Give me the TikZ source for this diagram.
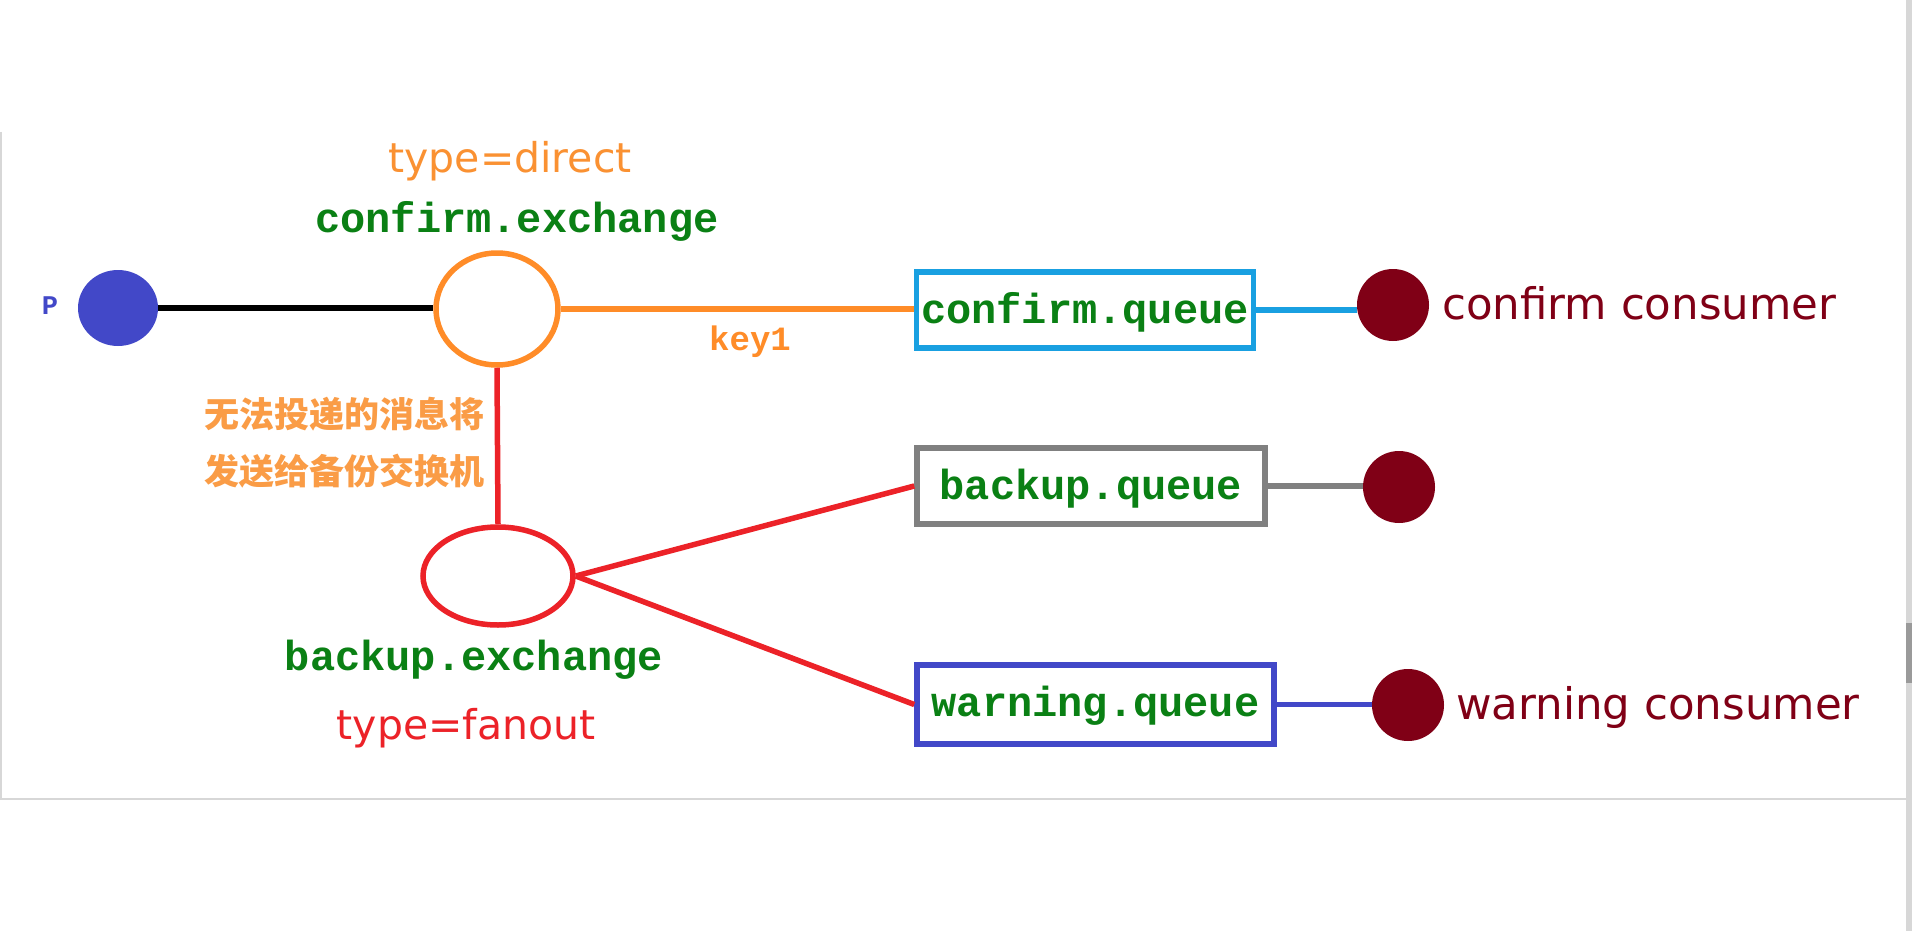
\documentclass[tikz,border=0pt]{standalone}
\usepackage{fontspec}
\setmainfont{DejaVu Sans}
\setmonofont{Liberation Mono}
\newfontfamily\cjk{Noto Sans CJK SC}
\usetikzlibrary{shapes.geometric}
\definecolor{orng}{RGB}{255,140,40}
\definecolor{orngtxt}{RGB}{250,145,50}
\definecolor{grn}{RGB}{10,128,20}
\definecolor{pblue}{RGB}{66,72,200}
\definecolor{dred}{RGB}{128,0,22}
\definecolor{lblue}{RGB}{25,160,225}
\definecolor{qgrey}{RGB}{128,128,128}
\definecolor{rred}{RGB}{236,34,40}
\definecolor{frame}{RGB}{215,215,215}
\tikzset{
  lw/.style={line width=5.5pt},
  dotnode/.style={ellipse, fill=dred, minimum width=72pt, minimum height=72pt, inner sep=0pt},
  qbox/.style={draw, line width=5.5pt, inner sep=0pt, fill=white},
  qtext/.style={font=\fontsize{42}{48}\selectfont\ttfamily\bfseries, text=grn},
  sanstxt/.style={font=\fontsize{41}{48}\selectfont},
  cons/.style={font=\fontsize{43.5}{48}\selectfont, text=dred, anchor=west, inner sep=0pt},
}
\begin{document}
\begin{tikzpicture}[x=1pt,y=-1pt]
\useasboundingbox (0,0) rectangle (1912,931);
\fill[white] (0,0) rectangle (1912,931);
% screenshot frame
\draw[frame, line width=1.5pt] (1,132) -- (1,799) -- (1906,799);
\fill[frame] (1906,0) rectangle (1912,931);
\fill[qgrey!80] (1906,623) rectangle (1912,683);

% producer
\node[ellipse, fill=pblue, minimum width=80pt, minimum height=76pt, inner sep=0pt] (p) at (118,308) {};
\node[font=\fontsize{27}{30}\selectfont\ttfamily\bfseries, text=pblue] (plab) at (50,306) {P};

% confirm exchange
\node[ellipse, draw=orng, line width=5.5pt, minimum width=122pt, minimum height=112pt, inner sep=0pt] (cx) at (497,309) {};
\node[sanstxt, text=orngtxt] (cxtype) at (510,161) {type=direct};
\node[qtext] (cxname) at (517,221) {confirm.exchange};

% confirm queue
\node[qbox, draw=lblue, minimum width=337pt, minimum height=76pt] (cq) at (1085,310) {};
\node[qtext] (cqt) at (1085,312) {confirm.queue};
\node[dotnode] (cc) at (1393,305) {};
\node[cons] (cct) at (1442,303) {confirm consumer};

% backup exchange
\node[ellipse, draw=rred, line width=5.5pt, minimum width=150pt, minimum height=98pt, inner sep=0pt] (bx) at (498,576) {};
\node[qtext] (bxname) at (474,660) {backup.exchange};
\node[sanstxt, text=rred] (bxtype) at (466,728) {type=fanout};

% chinese note
\node[font=\fontsize{35}{57}\selectfont\cjk\bfseries, text=orngtxt!90, align=left, anchor=east] (note) at (488,443) {无法投递的消息将\\发送给备份交换机};

% backup queue
\node[qbox, draw=qgrey, minimum width=348pt, minimum height=76pt] (bq) at (1091,486) {};
\node[qtext] (bqt) at (1091,489) {backup.queue};
\node[dotnode] (bc) at (1399,487) {};

% warning queue
\node[qbox, draw=pblue, minimum width=357pt, minimum height=79pt] (wq) at (1095.5,704.5) {};
\node[qtext] (wqt) at (1095.5,706) {warning.queue};
\node[dotnode] (wc) at (1408,705) {};
\node[cons] (wct) at (1456,707) {warning consumer};

% key label
\node[font=\fontsize{34}{40}\selectfont\ttfamily\bfseries, text=orng] (k1) at (750,342) {key1};

% connectors
\draw[lw, black] (p.east) -- (p.east -| cx.west);
\draw[lw, orng] (cx.east) -- (cx.east -| cq.west);
\draw[lw, lblue] (cq.east) -- (cq.east -| cc.west);
\draw[lw, rred] (cx.south) -- (bx.north);
\draw[lw, rred] (bx.east) -- (bq.west);
\draw[lw, rred] (bx.east) -- (wq.west);
\draw[lw, qgrey] (bq.east) -- (bq.east -| bc.west);
\draw[lw, pblue] (wq.east) -- (wq.east -| wc.west);
\end{tikzpicture}
\end{document}
